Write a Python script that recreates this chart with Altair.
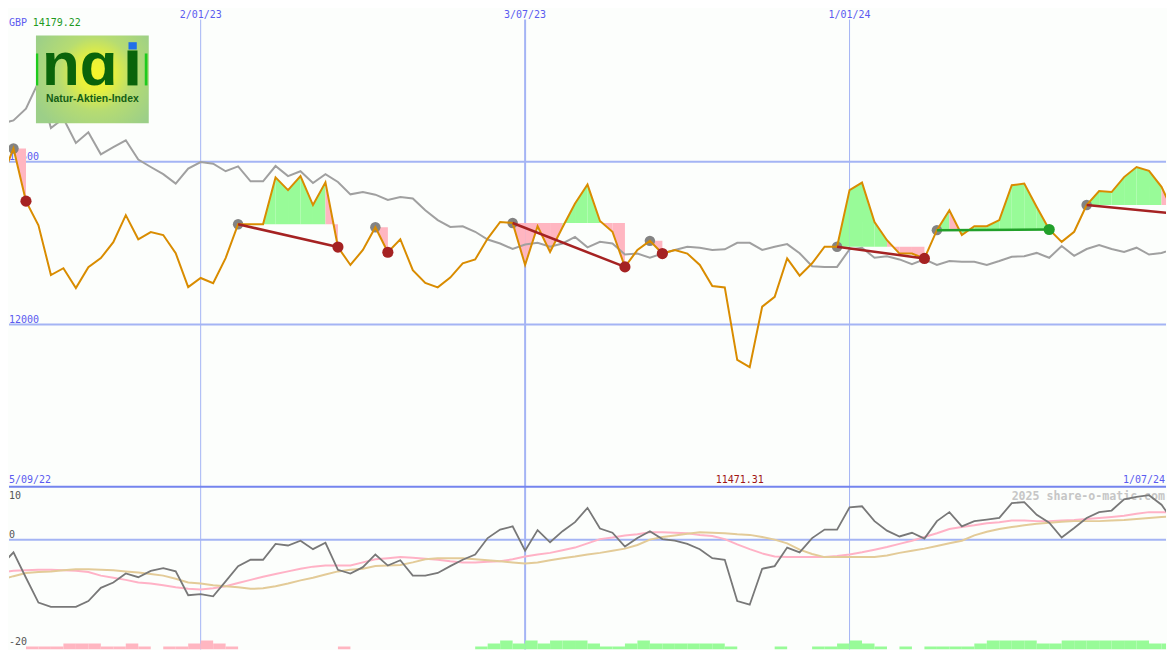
import altair as alt
import pandas as pd

MONO = "DejaVu Sans Mono"
SANS = "Liberation Sans"
W, H_TOP, H_BOT = 1159, 479, 163

# ---------------- data ----------------
dates = [d.strftime("%Y-%m-%d") for d in pd.date_range("2022-09-12", periods=95, freq="7D")]
next_dates = dates[1:] + ["2024-07-08"]

price = [12443, 12541, 12379, 12305, 12152, 12173, 12112, 12176, 12204, 12253,
         12336, 12262, 12284, 12275, 12219, 12115, 12143, 12127, 12204, 12308,
         12308, 12308, 12452, 12413, 12456, 12367, 12437, 12238, 12183, 12229,
         12299, 12222, 12262, 12167, 12128, 12114, 12144, 12188, 12200, 12264,
         12315, 12312, 12183, 12302, 12223, 12299, 12372, 12430, 12318, 12285,
         12177, 12229, 12257, 12218, 12229, 12218, 12183, 12118, 12114, 11891,
         11869, 12055, 12085, 12203, 12150, 12188, 12239, 12239, 12413, 12436,
         12315, 12259, 12218, 12218, 12203, 12290, 12351, 12275, 12302, 12302,
         12321, 12428, 12433, 12361, 12292, 12254, 12285, 12367, 12410, 12407,
         12453, 12484, 12472, 12423, 12341]

compare = [12617, 12627, 12663, 12745, 12604, 12633, 12558, 12591, 12523, 12545,
           12566, 12507, 12484, 12462, 12433, 12479, 12499, 12494, 12471, 12486,
           12440, 12440, 12487, 12456, 12471, 12435, 12462, 12438, 12400, 12407,
           12399, 12383, 12392, 12387, 12351, 12321, 12300, 12302, 12285, 12261,
           12249, 12232, 12246, 12251, 12239, 12249, 12269, 12237, 12254, 12249,
           12215, 12218, 12205, 12218, 12229, 12239, 12236, 12229, 12231, 12251,
           12251, 12229, 12239, 12247, 12219, 12179, 12177, 12177, 12231, 12236,
           12205, 12210, 12200, 12185, 12200, 12183, 12195, 12193, 12193, 12183,
           12195, 12208, 12210, 12220, 12205, 12241, 12211, 12232, 12244, 12232,
           12223, 12236, 12215, 12220, 12232]

osc = [-4.9, -2.4, -7.2, -11.9, -12.7, -12.7, -12.7, -11.6, -9.1, -8.1,
       -6.4, -7.1, -5.9, -5.4, -6.0, -10.5, -10.3, -10.7, -7.9, -5.0,
       -3.8, -3.8, -0.8, -1.1, -0.2, -1.8, -0.6, -5.7, -6.4, -5.2,
       -2.8, -4.9, -3.9, -6.8, -6.8, -6.3, -5.0, -3.8, -2.8, 0.3,
       1.9, 2.5, -2.1, 1.8, -0.5, 1.6, 3.3, 6.0, 2.1, 1.3,
       -1.3, 0.3, 1.6, 0.1, -0.2, -0.8, -1.8, -3.5, -3.8, -11.6,
       -12.3, -5.5, -5.0, -1.5, -2.4, 0.3, 1.9, 1.9, 6.1, 6.3,
       3.5, 1.7, 0.6, 1.3, 0.2, 3.5, 5.2, 2.5, 3.5, 3.8,
       4.1, 6.9, 7.1, 4.7, 3.2, 0.4, 2.2, 4.1, 5.2, 5.5,
       7.6, 8.1, 8.4, 6.6, 3.3]

ma_fast = [-6.2, -5.9, -5.8, -5.7, -5.7, -5.8, -5.9, -6.1, -6.8, -7.2,
           -7.6, -8.1, -8.3, -8.6, -9.0, -9.3, -9.4, -9.2, -8.8, -8.2,
           -7.6, -7.0, -6.5, -6.0, -5.5, -5.1, -4.9, -4.9, -4.9, -4.3,
           -3.7, -3.5, -3.3, -3.4, -3.6, -3.8, -4.1, -4.3, -4.3, -4.2,
           -4.1, -3.7, -3.2, -2.8, -2.5, -2.0, -1.5, -0.7, 0.1, 0.4,
           0.8, 1.0, 1.4, 1.4, 1.3, 1.2, 0.9, 0.7, 0.1, -0.9,
           -1.8, -2.6, -3.2, -3.3, -3.3, -3.3, -3.3, -3.1, -2.8, -2.4,
           -1.9, -1.4, -0.8, -0.2, 0.5, 1.2, 2.0, 2.4, 2.7, 3.1,
           3.3, 3.6, 3.6, 3.5, 3.5, 3.6, 3.7, 3.9, 4.1, 4.3,
           4.5, 4.9, 5.2, 5.2, 5.2]

ma_slow = [-7.6, -6.9, -6.3, -6.1, -6.0, -5.8, -5.6, -5.6, -5.7, -5.8,
           -6.0, -6.2, -6.5, -6.8, -7.4, -8.1, -8.3, -8.6, -8.8, -9.0,
           -9.3, -9.2, -8.8, -8.3, -7.7, -7.2, -6.6, -6.0, -5.7, -5.5,
           -5.0, -4.9, -4.8, -4.3, -3.7, -3.5, -3.5, -3.5, -3.7, -3.9,
           -4.1, -4.3, -4.5, -4.3, -3.9, -3.5, -3.2, -2.8, -2.5, -2.1,
           -1.7, -1.0, 0.0, 0.5, 0.8, 1.1, 1.4, 1.3, 1.2, 1.0,
           0.9, 0.5, 0.0, -0.7, -1.9, -2.7, -3.3, -3.3, -3.3, -3.3,
           -3.3, -3.0, -2.5, -2.1, -1.7, -1.2, -0.7, -0.2, 0.8, 1.5,
           2.0, 2.4, 2.7, 3.0, 3.2, 3.4, 3.5, 3.5, 3.5, 3.6,
           3.7, 3.9, 4.1, 4.3, 4.4]

hist = [0, 0, -1, -1, -1, -2, -2, -2, -1, -1,
        -2, -1, 0, -1, -1, -2, -3, -2, -1, 0,
        0, 0, 0, 0, 0, 0, 0, -1, 0, 0,
        0, 0, 0, 0, 0, 0, 0, 0, 1, 2,
        3, 2, 3, 2, 3, 3, 3, 2, 1, 1,
        2, 3, 2, 2, 2, 2, 2, 2, 1, 0,
        0, 0, 1, 0, 0, 1, 1, 2, 3, 2,
        1, 0, 1, 0, 1, 1, 1, 1, 2, 3,
        3, 3, 3, 2, 2, 3, 3, 3, 3, 3,
        3, 3, 2, 2, 0]

entry_idx = [1, 19, 30, 41, 52, 67, 75, 87]
exit_idx = [2, 27, 31, 50, 53, 74, 84, 94]

grid_prices = [12500, 12000]
grid_price_labels = ["12500", "12000"]
grid_dates = ["2023-01-02", "2023-07-03", "2024-01-01"]
grid_date_labels = ["2/01/23", "3/07/23", "1/01/24"]
grid_date_widths = [1, 2, 1]

# ---------------- colours ----------------
UP_FILL, DOWN_FILL = "#98fb98", "#ffb6c1"
WIN, LOSS = "#22a02a", "#a52222"
BLUE = "#5b5bf0"
GRID = "#a4b4f4"

# ---------------- frames ----------------
df = pd.DataFrame({"date": dates, "date2": next_dates, "price": price, "cmp": compare,
                   "osc": osc, "ma1": ma_fast, "ma2": ma_slow, "hist": hist})

area_rows = []
for t, (e, x) in enumerate(zip(entry_idx, exit_idx)):
    lvl = price[e]
    for j in range(e, x):
        c = UP_FILL if price[j + 1] >= lvl else DOWN_FILL
        for k in (j, j + 1):
            area_rows.append({"date": dates[k], "p": price[k], "lvl": lvl, "seg": f"{t}-{j}", "c": c})
area_df = pd.DataFrame(area_rows)

trend_rows = []
for t, (e, x) in enumerate(zip(entry_idx, exit_idx)):
    if x - e < 2:
        continue
    c = WIN if price[x] >= price[e] else LOSS
    trend_rows.append({"date": dates[e], "p": price[e], "t": t, "c": c})
    trend_rows.append({"date": dates[x], "p": price[x], "t": t, "c": c})
trend_df = pd.DataFrame(trend_rows)

entry_df = pd.DataFrame({"date": [dates[e] for e in entry_idx], "p": [price[e] for e in entry_idx]})
exit_df = pd.DataFrame({"date": [dates[x] for x in exit_idx], "p": [price[x] for x in exit_idx],
                        "c": [WIN if price[x] >= price[e] else LOSS for e, x in zip(entry_idx, exit_idx)]})

bar_df = df[df["hist"] != 0].copy()
bar_df["lvl"] = bar_df["hist"].abs()
bar_df["c"] = [UP_FILL if h > 0 else DOWN_FILL for h in bar_df["hist"]]

hgrid_df = pd.DataFrame({"v": grid_prices, "lab": grid_price_labels})
vgrid_df = pd.DataFrame({"date": grid_dates, "lab": grid_date_labels, "w": grid_date_widths})
one = pd.DataFrame({"a": [0]})

# ---------------- scales ----------------
xs = alt.Scale(type="utc", domain=[
    alt.DateTime(year=2022, month=9, date=16, hours=11, minutes=31, seconds=12, utc=True),
    alt.DateTime(year=2024, month=6, date=26, hours=12, minutes=28, seconds=48, utc=True)])
ys_top = alt.Scale(domain=[11501.5, 12970.9], zero=False, nice=False)
ys_bot = alt.Scale(domain=[-20.75, 10], zero=False, nice=False)
ys_bar = alt.Scale(domain=[0, H_BOT / 3.0], nice=False)

X = alt.X("date:T", scale=xs, axis=None)
C = alt.Color("c:N", scale=None, legend=None)


def txt(s, x, y, color, size=10, align="left", font=MONO, weight="normal"):
    return alt.Chart(one).mark_text(text=s, align=align, baseline="alphabetic", font=font,
                                    fontSize=size, fontWeight=weight, color=color).encode(
        x=alt.value(x), y=alt.value(y))


def box(x1, x2, y1, y2, fill):
    return alt.Chart(one).mark_rect(fill=fill).encode(
        x=alt.value(x1), x2=alt.value(x2), y=alt.value(y1), y2=alt.value(y2))


# ---------------- logo (stand-in, drawn on top) ----------------
grad = alt.RadialGradient(gradient="radial",
                          stops=[alt.GradientStop(offset=0, color="#f6f62a"),
                                 alt.GradientStop(offset=0.25, color="#e8f03c"),
                                 alt.GradientStop(offset=0.55, color="#b6dc72"),
                                 alt.GradientStop(offset=1, color="#9ccf88")],
                          x1=0.53, y1=0.45, x2=0.53, y2=0.45, r1=0, r2=0.6)
DKG = "#0a640a"
logo = [
    box(27, 140, 27, 115, grad),
    box(27, 29.3, 45, 77, "#1ecb1e"),
    box(136, 138.7, 45, 77, "#1ecb1e"),
    txt("n\u0251", 33, 77, DKG, size=62, font=SANS, weight="bold"),
    box(118.7, 128.7, 42, 77, DKG),
    box(119.7, 128, 33.7, 41, "#1f6fe8"),
    txt("Natur-Aktien-Index", 37, 93.7, "#145e14", size=10.4, font=SANS, weight="bold"),
]

# ---------------- top panel ----------------
hrules = alt.Chart(hgrid_df).mark_rule(color=GRID, strokeWidth=2).encode(
    y=alt.Y("v:Q", scale=ys_top, axis=None))
hlabels = alt.Chart(hgrid_df).mark_text(align="left", baseline="alphabetic", font=MONO, fontSize=10,
                                        color=BLUE, dy=-1.5).encode(
    x=alt.value(0), y=alt.Y("v:Q", scale=ys_top, axis=None), text="lab:N")
vrules = alt.Chart(vgrid_df).mark_rule(color=GRID).encode(
    x=X, y=alt.value(11), y2=alt.value(H_TOP), strokeWidth=alt.StrokeWidth("w:Q", scale=None))
vlabels = alt.Chart(vgrid_df).mark_text(align="center", baseline="alphabetic", font=MONO, fontSize=10,
                                        color=BLUE).encode(x=X, y=alt.value(9.5), text="lab:N")

areas = alt.Chart(area_df).mark_area(clip=True, interpolate="linear").encode(
    x=X, y=alt.Y("p:Q", scale=ys_top, axis=None, stack=None), y2="lvl:Q",
    color=C, detail="seg:N")

cmp_line = alt.Chart(df).mark_line(clip=True, color="#a0a0a0", strokeWidth=2).encode(
    x=X, y=alt.Y("cmp:Q", scale=ys_top, axis=None))
entries = alt.Chart(entry_df).mark_circle(clip=True, size=110, opacity=1, color="#838383").encode(
    x=X, y=alt.Y("p:Q", scale=ys_top, axis=None))
price_line = alt.Chart(df).mark_line(clip=True, color="#d98c00", strokeWidth=2).encode(
    x=X, y=alt.Y("price:Q", scale=ys_top, axis=None))
trends = alt.Chart(trend_df).mark_line(clip=True, strokeWidth=2.5).encode(
    x=X, y=alt.Y("p:Q", scale=ys_top, axis=None), color=C, detail="t:N")
exits = alt.Chart(exit_df).mark_circle(clip=True, size=125, opacity=1).encode(
    x=X, y=alt.Y("p:Q", scale=ys_top, axis=None), color=C)

top_texts = [
    txt("GBP", 0, 17, BLUE),
    txt("14179.22", 23.7, 17, "#1e9a1e"),
    txt("5/09/22", 0, 475.3, BLUE),
    txt("11471.31", 732, 475.3, "#a01414", align="center"),
    txt("1/07/24", 1158, 475.3, BLUE, align="right"),
]

top = alt.layer(hrules, vrules, hlabels, vlabels, areas, cmp_line, entries,
                price_line, trends, exits, *logo, *top_texts).properties(width=W, height=H_TOP)

# ---------------- bottom panel ----------------
zero_rule = alt.Chart(pd.DataFrame({"v": [0]})).mark_rule(color=GRID, strokeWidth=2).encode(
    y=alt.Y("v:Q", scale=ys_bot, axis=None))
top_rule = alt.Chart(pd.DataFrame({"v": [10]})).mark_rule(color="#7484ee", strokeWidth=2).encode(
    y=alt.Y("v:Q", scale=ys_bot, axis=None))
vrules_b = alt.Chart(vgrid_df).mark_rule(color=GRID).encode(
    x=X, strokeWidth=alt.StrokeWidth("w:Q", scale=None))


def osc_label(v, dy):
    return alt.Chart(pd.DataFrame({"v": [v], "lab": [str(v)]})).mark_text(
        align="left", baseline="alphabetic", font=MONO, fontSize=10, color="#555555", dy=dy).encode(
        x=alt.value(0), y=alt.Y("v:Q", scale=ys_bot, axis=None), text="lab:N")


wm = txt("2025 share-o-matic.com", 1158, 13, "#c6c6c6", size=11.6, align="right", weight="bold")

bars = alt.Chart(bar_df).mark_rect(clip=True).encode(
    x=X, x2="date2:T", y=alt.Y("lvl:Q", scale=ys_bar, axis=None), y2=alt.value(H_BOT), color=C)

ma1_line = alt.Chart(df).mark_line(clip=True, color="#ffb2c6", strokeWidth=2).encode(
    x=X, y=alt.Y("ma1:Q", scale=ys_bot, axis=None))
ma2_line = alt.Chart(df).mark_line(clip=True, color="#e3cb98", strokeWidth=2).encode(
    x=X, y=alt.Y("ma2:Q", scale=ys_bot, axis=None))
osc_line = alt.Chart(df).mark_line(clip=True, color="#787878", strokeWidth=1.8).encode(
    x=X, y=alt.Y("osc:Q", scale=ys_bot, axis=None))

bottom = alt.layer(zero_rule, vrules_b, top_rule, osc_label(10, 12.5), osc_label(0, -1.5),
                   osc_label(-20, 0), wm, bars, ma1_line, ma2_line, osc_line).resolve_scale(
    y="independent").properties(width=W, height=H_BOT)

chart = alt.vconcat(top, bottom, spacing=0, bounds="flush").properties(
    padding=0, background="#fcfefc").configure_view(stroke=None)

chart.save("out.html", embed_options={"renderer": "svg", "actions": False})
